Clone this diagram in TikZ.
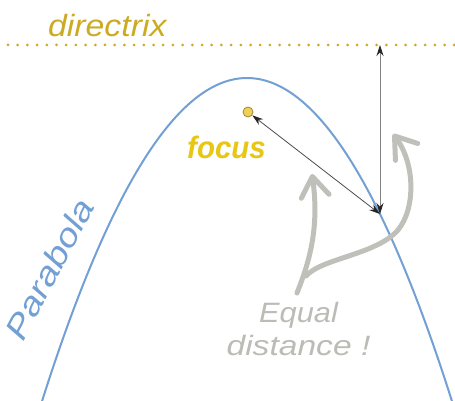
\documentclass[tikz,border=0pt]{standalone}
\usepackage{fontspec}
\setmainfont{Liberation Sans}
\newfontfamily\wideA[FakeStretch=1.1]{Liberation Sans}
\newfontfamily\wideB[FakeStretch=1.2]{Liberation Sans}
\newfontfamily\narrowA[FakeStretch=0.95]{Liberation Sans}
\usetikzlibrary{arrows.meta}
\definecolor{dirgold}{RGB}{205,170,35}
\definecolor{focyel}{RGB}{232,198,20}
\definecolor{dotfill}{RGB}{238,208,90}
\definecolor{dotline}{RGB}{160,135,50}
\definecolor{parblue}{RGB}{115,160,212}
\definecolor{lgray}{RGB}{192,192,186}
\definecolor{lgtext}{RGB}{188,188,182}
\begin{document}
\begin{tikzpicture}[x=1pt,y=-1pt,
  parab/.style={draw=parblue,line width=2pt},
  dirline/.style={draw=dirgold,line width=3pt,line cap=round,dash pattern=on 0pt off 9.7pt},
  focusdot/.style={circle,draw=dotline,fill=dotfill,line width=0.8pt,minimum size=10pt,inner sep=0pt},
  distarrow/.style={line width=0.8pt,{Stealth[length=11pt,width=7pt,black!85]}-{Stealth[length=11pt,width=7pt,black!85]}},
  bigarrow/.style={draw=lgray,line width=5pt,line cap=round,-{Straight Barb[length=20pt,width=28pt,round]}},
  lbl/.style={inner sep=0pt}
]
\useasboundingbox (0,0) rectangle (455,401);
\fill[white] (0,0) rectangle (455,401);
\begin{scope}
  \clip (0,0) rectangle (455,401);
  \draw[parab] plot[domain=36:458,samples=120,smooth] (\x,{78+((\x-247)/10)^2/1.3});
\end{scope}
\coordinate (dl) at (8,45);
\coordinate (dr) at (455,45);
\draw[dirline] (dl) -- (dr);
\node[lbl,text=dirgold,anchor=base west] (dirtext) at (48,37)
  {\wideA\itshape\fontsize{30.7}{36}\selectfont directrix};
\node[focusdot] (F) at (248,112) {};
\node[lbl,text=focyel,anchor=base west] (foctext) at (187,158)
  {\narrowA\bfseries\itshape\fontsize{31}{36}\selectfont focus};
\coordinate (P) at (380,214);
\coordinate (D) at (380,45);
\draw[distarrow,draw=black!70] (F) -- (P);
\draw[distarrow,draw=black!50] (P) -- (D);
\node[lbl,text=parblue,anchor=mid,rotate=62] (partext) at (57,273)
  {\wideB\itshape\fontsize{32}{38}\selectfont Parabola};
\node[lbl,text=lgtext,anchor=base] (eq1) at (298.5,322)
  {\wideA\itshape\fontsize{28}{33}\selectfont Equal};
\node[lbl,text=lgtext,anchor=base] (eq2) at (298.5,355)
  {\wideB\itshape\fontsize{28}{33}\selectfont distance !};
\coordinate (s0) at (297,293);
\coordinate (j) at (306,276);
\coordinate (t1) at (312,174);
\coordinate (t2) at (393,134);
\draw[bigarrow] (s0) .. controls (308,265) and (320,230) .. (t1);
\draw[bigarrow] (j) .. controls (322,258) and (376,255) .. (398,230) .. controls (416,208) and (415,163) .. (t2);
\end{tikzpicture}
\end{document}
